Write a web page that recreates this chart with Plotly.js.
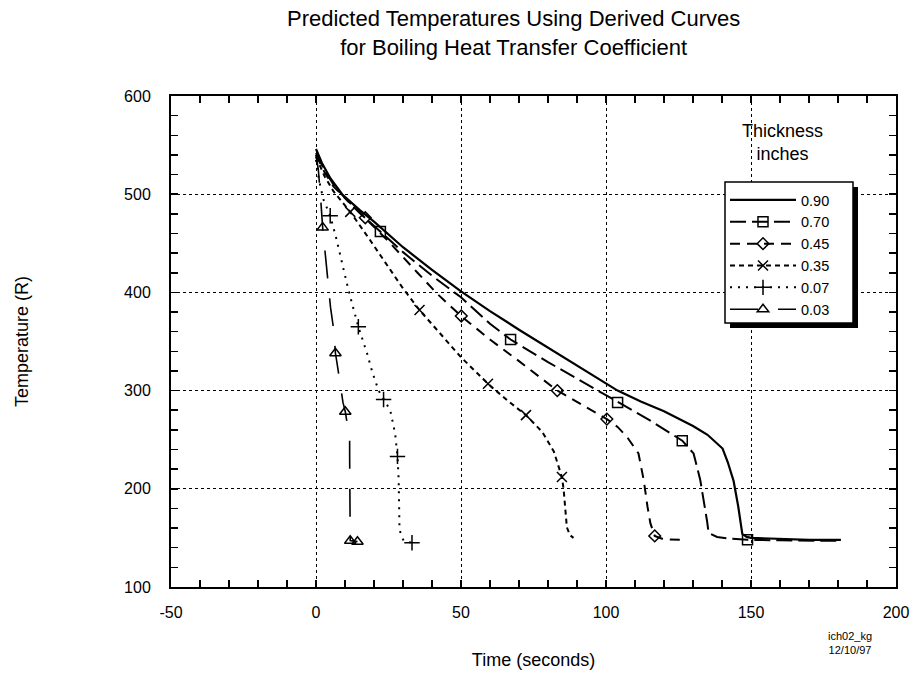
<!DOCTYPE html>
<html>
<head>
<meta charset="utf-8">
<script src="https://cdn.plot.ly/plotly-3.0.1.min.js"></script>
<style>html,body{margin:0;padding:0;background:#fff;}#chart{width:914px;height:675px;}</style>
</head>
<body>
<div id="chart"></div>
<script>
// ---- data (time in seconds, temperature in R) ----
const seriesNames = ["0.90", "0.70", "0.45", "0.35", "0.07", "0.03"];

const t090 = [0, 2, 5, 9, 15, 20, 30, 40, 50, 60, 70, 80, 90, 104, 112, 120, 130, 135, 140.2, 142, 144, 145.6, 147, 148.5, 150, 160, 170, 181];
const T090 = [546, 532, 516, 500, 484, 472, 446, 423, 401, 381, 362, 344, 326, 300, 289, 279, 264, 255, 241, 227, 208, 182, 154, 151, 150, 149, 148, 148];

const t070 = [0, 3, 6, 10, 15, 22.2, 30, 40, 50, 60, 67.1, 80, 90, 104, 115, 126.3, 130.2, 132.5, 134, 134.8, 135.4, 138.3, 142, 148.8, 160, 170, 180];
const T070 = [542, 524, 510, 496, 481, 462, 441, 417, 395, 368, 352, 329, 312, 288, 270, 249, 236, 209, 185, 168, 155, 151, 149.5, 148, 147.5, 147, 147];
const mt070 = [22.2, 67.1, 104, 126.3, 148.8];
const mT070 = [462, 352, 288, 249, 148];

const t045 = [0, 3, 6, 10, 17, 25, 35, 42, 50, 60, 70, 83.2, 92, 100.3, 104, 107.2, 111.2, 113, 114.3, 115.3, 116.8, 119.9, 125.6];
const T045 = [540, 522, 508, 496, 476, 452, 420, 398, 376, 352, 330, 300, 285, 271, 263, 253, 236, 209, 182, 165, 152, 148.6, 148];
const mt045 = [17, 50.1, 83.2, 100.3, 116.8];
const mT045 = [476, 376, 300, 271, 152];

const t035 = [0, 3, 6, 11.8, 18, 25, 30, 35.7, 41.7, 50, 59.3, 66, 72.4, 78, 82, 84.8, 85.4, 86, 86.5, 87.5, 88.8];
const T035 = [538, 518, 503, 482, 456, 426, 404, 382, 362, 334, 307, 290, 275, 258, 238, 212, 199, 180, 161, 153, 150];
const mt035 = [11.8, 35.7, 59.3, 72.4, 84.8];
const mT035 = [482, 382, 307, 275, 212];

const t007 = [0, 1, 2.5, 4.9, 7, 8.4, 10.5, 12.4, 14.6, 17.6, 19.5, 21.6, 23.3, 25.6, 27.3, 28.1, 28.5, 28.6, 28.8, 30.2, 33.1];
const T007 = [535, 515, 495, 478, 455, 436, 411, 389, 365, 338, 318, 300, 291, 280, 256, 233, 210, 185, 158, 147, 145];
const mt007 = [4.9, 14.6, 23.3, 28.1, 33.1];
const mT007 = [478, 365, 291, 233, 145];

const t003 = [0, 0.8, 1.5, 2.3, 3.5, 5, 6.1, 6.7, 7.2, 8.6, 9.3, 10.1, 10.8, 11.6, 11.6, 11.7, 11.8, 11.8, 14.3];
const T003 = [540, 525, 500, 466, 430, 385, 362, 338, 329, 300, 288, 278.5, 265, 251, 233, 202, 181, 147.2, 146.2];
const mt003 = [2.3, 6.7, 10.1, 11.8, 14.3];
const mT003 = [466, 338, 278.5, 147, 146];

const xTickVals = [-50, 0, 50, 100, 150, 200];
const xTickText = ["-50", "0", "50", "100", "150", "200"];
const yTickVals = [100, 200, 300, 400, 500, 600];
const yTickText = ["100", "200", "300", "400", "500", "600"];

const titleLines = ["Predicted Temperatures Using Derived Curves", "for Boiling Heat Transfer Coefficient"];

// ---- styles ----
const FONT = "Liberation Sans, Arial, sans-serif";
const styles = [
  {dash: "solid", width: 2.2, symbol: null},
  {dash: "16px,6px", width: 2, symbol: "square-open", size: 10},
  {dash: "10px,7px", width: 2, symbol: "diamond-open", size: 9},
  {dash: "5px,4px", width: 2, symbol: "x-thin-open", size: 10},
  {dash: "2px,6px", width: 2, symbol: "cross-thin-open", size: 11},
  {dash: "28px,20px", width: 1.6, symbol: "triangle-up-open", size: 10}
];
const lines = [[t090, T090], [t070, T070], [t045, T045], [t035, T035], [t007, T007], [t003, T003]];
const marks = [null, [mt070, mT070], [mt045, mT045], [mt035, mT035], [mt007, mT007], [mt003, mT003]];

const traces = [];
lines.forEach((d, i) => {
  const s = styles[i];
  traces.push({type: "scatter", mode: "lines", x: d[0], y: d[1], showlegend: false,
    line: {color: "#000", width: s.width, dash: s.dash}, hoverinfo: "skip"});
  if (marks[i]) {
    traces.push({type: "scatter", mode: "markers", x: marks[i][0], y: marks[i][1], showlegend: false,
      marker: {symbol: s.symbol, size: s.size, color: "#000", line: {color: "#000", width: 1.5}}, hoverinfo: "skip"});
  }
});
// legend entries
lines.forEach((d, i) => {
  const s = styles[i];
  const tr = {type: "scatter", mode: s.symbol ? "lines+markers" : "lines", x: [null], y: [null],
    name: seriesNames[i], showlegend: true,
    line: {color: "#000", width: s.width, dash: s.dash}};
  if (s.symbol) tr.marker = {symbol: s.symbol, size: s.size, color: "#000", line: {color: "#000", width: 1.5}};
  traces.push(tr);
});

const axisCommon = {
  showline: true, linecolor: "#000", linewidth: 2, mirror: "allticks",
  ticks: "inside", ticklen: 7, tickwidth: 1.5, tickcolor: "#000",
  showgrid: true, gridcolor: "#000", gridwidth: 1, griddash: "3px,3px",
  zeroline: false, tickfont: {family: FONT, size: 16, color: "#000"}
};

// legend frame in paper fractions (plot area 725 x 491 px)
const px = v => (v - 171) / 725;
const py = v => (587 - v) / 491;

const layout = {
  width: 914, height: 675,
  paper_bgcolor: "#fff", plot_bgcolor: "#fff",
  margin: {l: 171, r: 18, t: 96, b: 88},
  xaxis: Object.assign({}, axisCommon, {range: [-50, 200], tickmode: "array", tickvals: xTickVals, ticktext: xTickText,
    ticklabelstandoff: 10,
    minor: {dtick: 10, ticks: "inside", ticklen: 7, tickwidth: 1.5, tickcolor: "#000", showgrid: false},
    title: {text: "Time (seconds)", font: {family: FONT, size: 18, color: "#000"}, standoff: 33}}),
  yaxis: Object.assign({}, axisCommon, {range: [100, 600], tickmode: "array", tickvals: yTickVals, ticktext: yTickText,
    ticklabelstandoff: 15,
    minor: {dtick: 20, ticks: "inside", ticklen: 7, tickwidth: 1.5, tickcolor: "#000", showgrid: false},
    title: {text: "Temperature (R)", font: {family: FONT, size: 18, color: "#000"}, standoff: 91}}),
  legend: {x: px(725), y: py(184), xanchor: "left", yanchor: "top", bgcolor: "rgba(0,0,0,0)", borderwidth: 0,
    font: {family: FONT, size: 14.5, color: "#000"}, traceorder: "normal", itemwidth: 66},
  shapes: [
    {type: "rect", xref: "paper", yref: "paper", x0: px(730), x1: px(858), y0: py(328), y1: py(187),
     fillcolor: "#000", line: {width: 0}, layer: "above"},
    {type: "rect", xref: "paper", yref: "paper", x0: px(725), x1: px(853), y0: py(323), y1: py(182),
     fillcolor: "#fff", line: {width: 1.5, color: "#000"}, layer: "above"}
  ],
  annotations: [
    {text: titleLines.join("<br>"), xref: "paper", yref: "paper", x: 0.4724, y: 1.1275, xanchor: "center", yanchor: "middle",
     showarrow: false, font: {family: FONT, size: 22, color: "#000"}},
    {text: "Thickness<br>inches", xref: "paper", yref: "paper", x: 0.844, y: 0.906, xanchor: "center", yanchor: "middle",
     showarrow: false, font: {family: FONT, size: 18, color: "#000"}},
    {text: "ich02_kg<br>12/10/97", xref: "paper", yref: "paper", x: 0.9366, y: -0.114, xanchor: "center", yanchor: "middle",
     showarrow: false, font: {family: FONT, size: 11, color: "#000"}}
  ],
  showlegend: true
};

Plotly.newPlot("chart", traces, layout, {staticPlot: true, displayModeBar: false});
</script>
</body>
</html>
